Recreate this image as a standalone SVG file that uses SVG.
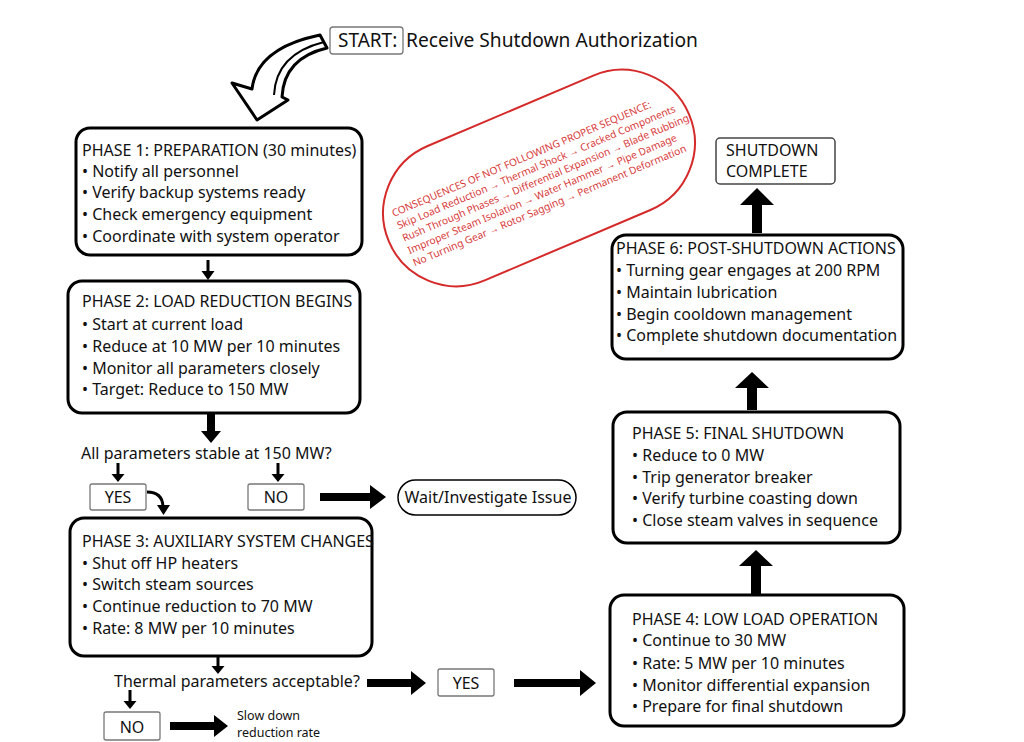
<svg xmlns="http://www.w3.org/2000/svg" width="1024" height="742" viewBox="0 0 1024 742">
<style>
.t{font-family:"Noto Sans","Open Sans","DejaVu Sans",sans-serif;fill:#111;}
.ph{font-size:16px;}
.q{font-size:16px;}
.box{fill:#fff;stroke:#000;stroke-width:3;}
.lbl{fill:#fff;stroke:#777;stroke-width:1.3;}
.red{font-family:"Noto Sans","Open Sans",sans-serif;font-size:10.2px;fill:#d83a3a;}
.ar{fill:#000;}
</style>
<rect width="1024" height="742" fill="#fff"/>

<g id="start">
<rect class="lbl" x="330" y="27" width="73" height="27" rx="3"/>
<text class="t" x="338" y="47" font-size="19">START:</text>
<text class="t" x="406" y="47" font-size="19.2">Receive Shutdown Authorization</text>
</g>

<g id="consequences" transform="translate(539,178) rotate(-23)">
<rect x="-163" y="-73" width="326" height="146" rx="73" fill="none" stroke="#d42a2a" stroke-width="2"/>
<text class="red" x="-149" y="-21">CONSEQUENCES OF NOT FOLLOWING PROPER SEQUENCE:</text>
<text class="red" x="-149" y="-7.5">Skip Load Reduction → Thermal Shock → Cracked Components</text>
<text class="red" x="-149" y="6">Rush Through Phases → Differential Expansion → Blade Rubbing</text>
<text class="red" x="-149" y="19.5">Improper Steam Isolation → Water Hammer → Pipe Damage</text>
<text class="red" x="-149" y="33">No Turning Gear → Rotor Sagging → Permanent Deformation</text>
</g>

<g id="phase1">
<rect class="box" x="76" y="128" width="286" height="127" rx="14"/>
<text class="t ph" x="82" y="156">PHASE 1: PREPARATION (30 minutes)</text>
<text class="t ph" x="82" y="177">• Notify all personnel</text>
<text class="t ph" x="82" y="198">• Verify backup systems ready</text>
<text class="t ph" x="82" y="220">• Check emergency equipment</text>
<text class="t ph" x="82" y="242">• Coordinate with system operator</text>
</g>

<g id="phase2">
<rect class="box" x="68" y="281" width="292" height="132" rx="14"/>
<text class="t ph" x="82" y="307">PHASE 2: LOAD REDUCTION BEGINS</text>
<text class="t ph" x="82" y="330">• Start at current load</text>
<text class="t ph" x="82" y="352">• Reduce at 10 MW per 10 minutes</text>
<text class="t ph" x="82" y="374">• Monitor all parameters closely</text>
<text class="t ph" x="82" y="395">• Target: Reduce to 150 MW</text>
</g>

<g id="decision1">
<text class="t q" x="81" y="459">All parameters stable at 150 MW?</text>
</g>
<g id="yes1">
<rect class="lbl" x="90" y="484" width="56" height="26" rx="2"/>
<text class="t q" x="118" y="503" text-anchor="middle">YES</text>
</g>
<g id="no1">
<rect class="lbl" x="248" y="484" width="56" height="26" rx="2"/>
<text class="t q" x="276" y="503" text-anchor="middle">NO</text>
</g>
<g id="wait">
<rect x="398" y="480" width="178" height="35" rx="17.5" fill="#fff" stroke="#000" stroke-width="1.5"/>
<text class="t q" x="488" y="503" text-anchor="middle">Wait/Investigate Issue</text>
</g>

<g id="phase3">
<rect class="box" x="70" y="518" width="302" height="138" rx="14"/>
<text class="t ph" x="82" y="547">PHASE 3: AUXILIARY SYSTEM CHANGES</text>
<text class="t ph" x="82" y="569">• Shut off HP heaters</text>
<text class="t ph" x="82" y="590">• Switch steam sources</text>
<text class="t ph" x="82" y="612">• Continue reduction to 70 MW</text>
<text class="t ph" x="82" y="634">• Rate: 8 MW per 10 minutes</text>
</g>

<g id="decision2">
<text class="t q" x="114" y="687">Thermal parameters acceptable?</text>
</g>
<g id="yes2">
<rect class="lbl" x="438" y="669" width="56" height="27" rx="2"/>
<text class="t q" x="466" y="689" text-anchor="middle">YES</text>
</g>
<g id="no2">
<rect class="lbl" x="104" y="712" width="56" height="28" rx="2"/>
<text class="t q" x="132" y="733" text-anchor="middle">NO</text>
</g>
<g id="slow">
<text class="t" x="237" y="720" font-size="12.5">Slow down</text>
<text class="t" x="237" y="737" font-size="12.5">reduction rate</text>
</g>

<g id="phase4">
<rect class="box" x="610" y="595" width="294" height="131" rx="14"/>
<text class="t ph" x="632" y="625">PHASE 4: LOW LOAD OPERATION</text>
<text class="t ph" x="632" y="646">• Continue to 30 MW</text>
<text class="t ph" x="632" y="669">• Rate: 5 MW per 10 minutes</text>
<text class="t ph" x="632" y="691">• Monitor differential expansion</text>
<text class="t ph" x="632" y="712">• Prepare for final shutdown</text>
</g>

<g id="phase5">
<rect class="box" x="613" y="412" width="287" height="131" rx="14"/>
<text class="t ph" x="632" y="439">PHASE 5: FINAL SHUTDOWN</text>
<text class="t ph" x="632" y="461">• Reduce to 0 MW</text>
<text class="t ph" x="632" y="483">• Trip generator breaker</text>
<text class="t ph" x="632" y="504">• Verify turbine coasting down</text>
<text class="t ph" x="632" y="526">• Close steam valves in sequence</text>
</g>

<g id="phase6">
<rect class="box" x="612" y="235" width="291" height="124" rx="14"/>
<text class="t ph" x="616" y="254">PHASE 6: POST-SHUTDOWN ACTIONS</text>
<text class="t ph" x="616" y="276">• Turning gear engages at 200 RPM</text>
<text class="t ph" x="616" y="298">• Maintain lubrication</text>
<text class="t ph" x="616" y="320">• Begin cooldown management</text>
<text class="t ph" x="616" y="341">• Complete shutdown documentation</text>
</g>

<g id="complete">
<rect x="716" y="138" width="119" height="46" rx="4" fill="#fff" stroke="#444" stroke-width="1.5"/>
<text class="t ph" x="726" y="156">SHUTDOWN</text>
<text class="t ph" x="726" y="177">COMPLETE</text>
</g>

<g id="connectors">
<path d="M320,35 Q257,48 252,89 L232,83 L257,120 L288,100 L282,97 Q284,58 327,48 Z" fill="#fff" stroke="#000" stroke-width="3" stroke-linejoin="round"/>
<path d="M274,95 Q276,54 324,42" fill="none" stroke="#000" stroke-width="2"/>
<path class="ar" d="M206.5,260 h3 v11 h5 l-6.5,9 l-6.5,-9 h5 z"/>
<path class="ar" d="M207,414 h8 v17 h6 l-10,12 l-10,-12 h6 z"/>
<path class="ar" d="M116.5,463 h3 v11 h5 l-6.5,8 l-6.5,-8 h5 z"/>
<path class="ar" d="M276.5,463 h3 v11 h5 l-6.5,8 l-6.5,-8 h5 z"/>
<path d="M147,492 Q162,492 163,506" fill="none" stroke="#000" stroke-width="3"/>
<path class="ar" d="M157,505 h13 l-6.5,10 z"/>
<path class="ar" d="M320,493 h50 v-8 l16,12 l-16,12 v-8 h-50 z"/>
<path class="ar" d="M216.5,656 h3 v10 h5 l-6.5,8 l-6.5,-8 h5 z"/>
<path class="ar" d="M367,679 h44 v-8 l15,12 l-15,12 v-8 h-44 z"/>
<path class="ar" d="M514,679 h66 v-9 l16,13 l-16,13 v-9 h-66 z"/>
<path class="ar" d="M128.5,690 h3 v11 h5 l-6.5,8 l-6.5,-8 h5 z"/>
<path class="ar" d="M170,722 h44 v-7 l14,11 l-14,11 v-7 h-44 z"/>
<path class="ar" d="M751,594 v-28 h-12 l17,-16 l17,16 h-12 v28 z"/>
<path class="ar" d="M747,410 v-22 h-12 l17,-16 l17,16 h-12 v22 z"/>
<path class="ar" d="M752,233 v-28 h-12 l17,-17 l17,17 h-12 v28 z"/>
</g>
</svg>
